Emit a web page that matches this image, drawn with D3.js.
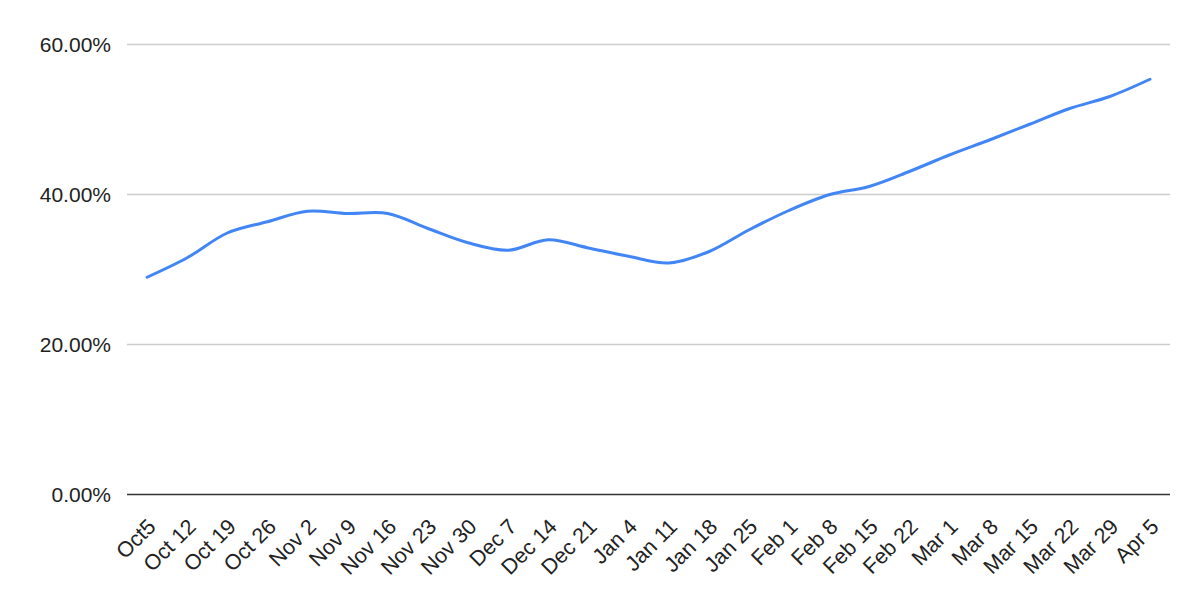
<!DOCTYPE html>
<html><head><meta charset="utf-8">
<script src="https://cdn.jsdelivr.net/npm/d3@7"></script>
<style>body{margin:0;background:#fff}svg{display:block}text{font-family:"Liberation Sans",Arial,sans-serif}</style>
</head><body>
<svg id="c" width="1200" height="602"></svg>
<script>
const categories = ["Oct5","Oct 12","Oct 19","Oct 26","Nov 2","Nov 9","Nov 16","Nov 23","Nov 30","Dec 7","Dec 14","Dec 21","Jan 4","Jan 11","Jan 18","Jan 25","Feb 1","Feb 8","Feb 15","Feb 22","Mar 1","Mar 8","Mar 15","Mar 22","Mar 29","Apr 5"];
const values = [28.9,31.5,34.8,36.3,37.7,37.4,37.4,35.4,33.5,32.5,33.9,32.8,31.7,30.8,32.3,35.2,37.8,39.9,41.0,43.0,45.2,47.2,49.3,51.4,53.0,55.3];
const yTicks = [0,20,40,60];

(function(){
const svg = d3.select("#c");
const pLeft = 127, pRight = 1170, pTop = 44, pBottom = 494;
const x = d3.scaleBand().domain(categories).range([pLeft,pRight]);
const y = d3.scaleLinear().domain([0,60]).range([pBottom,pTop]);

svg.append("g").selectAll("line").data(yTicks.filter(d=>d>0)).join("line")
  .attr("x1",pLeft).attr("x2",pRight).attr("y1",d=>y(d)+0.5).attr("y2",d=>y(d)+0.5)
  .attr("stroke","#cccccc").attr("stroke-width",1.3);

svg.append("g").selectAll("text").data(yTicks).join("text")
  .attr("x",111).attr("y",d=>y(d)).attr("dy","0.36em").attr("text-anchor","end")
  .attr("font-size",21).attr("fill","#222").text(d=>d.toFixed(2)+"%");

const line = d3.line().x((d,i)=>x(categories[i])+x.bandwidth()/2).y(d=>y(d)).curve(d3.curveCatmullRom.alpha(0.5));
svg.append("path").datum(values).attr("d",line).attr("fill","none")
  .attr("stroke","#4285f4").attr("stroke-width",3).attr("stroke-linejoin","round").attr("stroke-linecap","round");

svg.append("line").attr("x1",pLeft).attr("x2",pRight).attr("y1",pBottom+0.5).attr("y2",pBottom+0.5)
  .attr("stroke","#333").attr("stroke-width",1.5);

svg.append("g").selectAll("text").data(categories).join("text")
  .attr("transform",d=>`translate(${x(d)+x.bandwidth()/2-1},${pBottom+23}) rotate(-45)`)
  .attr("text-anchor","end").attr("dy","0.72em").attr("font-size",21.5).attr("fill","#222").text(d=>d);
})();
</script>
</body></html>
